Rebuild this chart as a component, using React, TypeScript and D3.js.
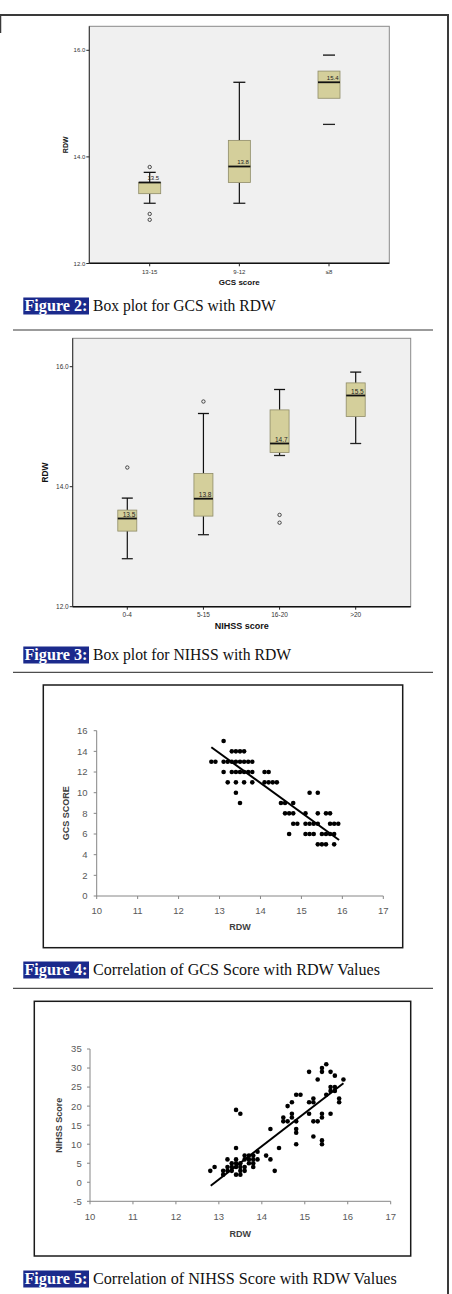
import React from "react";
import * as d3 from "d3";

const W = 452;
const H = 1294;

// ---------- Figure 2: box plot GCS vs RDW ----------
const gcsGroups = ["13-15", "9-12", "≤8"];
const gcsQ1 = [13.31, 13.52, 15.1];
const gcsMedian = [13.52, 13.82, 15.4];
const gcsQ3 = [13.52, 14.31, 15.61];
const gcsLowWhisker = [13.13, 13.13, 14.61];
const gcsHighWhisker = [13.71, 15.4, 15.91];
const gcsOutliers: number[][] = [[13.81, 12.93, 12.82], [], []];
const gcsStem = [true, true, false];

// ---------- Figure 3: box plot NIHSS vs RDW ----------
const nihssGroups = ["0-4", "5-15", "16-20", ">20"];
const nihssQ1 = [13.26, 13.51, 14.57, 15.17];
const nihssMedian = [13.47, 13.8, 14.72, 15.52];
const nihssQ3 = [13.61, 14.22, 15.28, 15.73];
const nihssLowWhisker = [12.8, 13.2, 14.52, 14.72];
const nihssHighWhisker = [13.81, 15.22, 15.62, 15.91];
const nihssOutliers: number[][] = [[14.32], [15.42], [13.53, 13.4], []];
const nihssStem = [true, true, true, true];

const boxYTicks = [12, 14, 16];

// ---------- Figure 4: GCS score vs RDW scatter ----------
const gcsScatter: [number, number][] = [
  [13.1, 15],
  [13.3, 14], [13.4, 14], [13.5, 14], [13.6, 14],
  [12.8, 13], [12.9, 13], [13.1, 13], [13.2, 13], [13.3, 13], [13.4, 13], [13.5, 13], [13.6, 13], [13.7, 13], [13.8, 13],
  [13.1, 12], [13.3, 12], [13.4, 12], [13.5, 12], [13.6, 12], [13.7, 12], [13.8, 12], [14.1, 12], [14.2, 12],
  [13.2, 11], [13.4, 11], [13.6, 11], [13.8, 11], [14.1, 11], [14.2, 11], [14.3, 11], [14.4, 11],
  [13.4, 10], [15.2, 10], [15.4, 10],
  [13.5, 9], [14.5, 9], [14.6, 9], [14.8, 9],
  [14.6, 8], [14.7, 8], [14.8, 8], [15.1, 8], [15.4, 8], [15.6, 8], [15.7, 8],
  [14.8, 7], [14.9, 7], [15.1, 7], [15.2, 7], [15.3, 7], [15.4, 7], [15.7, 7], [15.8, 7], [15.9, 7],
  [14.7, 6], [15.1, 6], [15.2, 6], [15.3, 6], [15.5, 6], [15.6, 6], [15.7, 6], [15.8, 6],
  [15.4, 5], [15.5, 5], [15.6, 5], [15.8, 5],
];
const gcsTrend: [number, number][] = [[12.8, 14.4], [15.92, 5.42]];
const gcsYTicks = [0, 2, 4, 6, 8, 10, 12, 14, 16];

// ---------- Figure 5: NIHSS score vs RDW scatter ----------
const nihssScatter: [number, number][] = [
  [12.8, 3], [12.9, 4], [13.1, 3], [13.1, 2], [13.2, 6], [13.2, 4], [13.2, 3],
  [13.3, 5], [13.3, 4], [13.3, 3], [13.4, 9], [13.4, 6], [13.4, 5], [13.4, 4], [13.4, 2],
  [13.5, 5], [13.5, 4], [13.5, 3], [13.5, 2], [13.6, 7], [13.6, 6], [13.6, 4], [13.6, 3],
  [13.7, 7], [13.7, 6], [13.7, 5], [13.8, 7], [13.8, 6], [13.8, 5], [13.8, 4],
  [13.9, 8], [13.9, 6], [14.1, 7], [14.2, 6], [14.3, 3], [14.4, 9],
  [13.4, 19], [13.5, 18], [14.2, 14],
  [14.5, 17], [14.5, 16], [14.6, 16], [14.7, 17], [14.7, 18], [14.6, 20], [14.7, 21],
  [14.8, 23], [14.9, 23], [14.8, 16], [14.8, 14], [14.8, 13], [14.8, 10],
  [15.1, 29], [15.1, 21], [15.1, 18], [15.2, 22], [15.2, 21], [15.2, 16], [15.3, 16], [15.2, 12],
  [15.3, 27], [15.4, 30], [15.4, 29], [15.4, 18], [15.4, 17], [15.4, 11], [15.4, 10],
  [15.5, 31], [15.5, 23], [15.6, 29], [15.6, 25], [15.7, 25], [15.6, 24], [15.7, 24],
  [15.6, 18], [15.7, 28], [15.8, 22], [15.8, 21], [15.9, 27],
];
const nihssTrend: [number, number][] = [[12.81, -0.9], [15.9, 26.0]];
const nihssYTicks = [-5, 0, 5, 10, 15, 20, 25, 30, 35];

const rdwTicks = [10, 11, 12, 13, 14, 15, 16, 17];

const SANS = "'Liberation Sans', Arial, sans-serif";
const SERIF = "'Liberation Serif', 'DejaVu Serif', serif";

type BoxProps = {
  rect: { x0: number; x1: number; y0: number; y1: number };
  yPix: [number, number]; // pixel for 12 and 16
  centers: [number, number];
  boxW: number;
  groups: string[];
  q1: number[];
  med: number[];
  q3: number[];
  lo: number[];
  hi: number[];
  out: number[][];
  stem: boolean[];
  title: string;
  tickFont: number;
  titleFont: number;
  rdwFont: number;
  rdwX: number;
  capW: number;
};

function BoxPlot(p: BoxProps) {
  const y = d3.scaleLinear().domain([12, 16]).range(p.yPix);
  const x = d3.scalePoint<string>().domain(p.groups).range(p.centers);
  const { x0, x1, y0, y1 } = p.rect;
  const fmt = d3.format(".1f");
  return (
    <g>
      <rect x={x0} y={y0} width={x1 - x0} height={y1 - y0} fill="#f0f0f0" stroke="#8a8a8a" strokeWidth={1} />
      <line x1={x0} x2={x0} y1={y0} y2={y1} stroke="#333" strokeWidth={1} />
      <line x1={x0} x2={x1} y1={y1} y2={y1} stroke="#111" strokeWidth={1.5} />
      {boxYTicks.map((t) => (
        <g key={t}>
          <line x1={x0 - 3} x2={x0} y1={y(t)} y2={y(t)} stroke="#222" strokeWidth={1} />
          <text x={x0 - 4} y={y(t) + p.tickFont * 0.35} textAnchor="end" fontSize={p.tickFont} fontFamily={SANS} fill="#333">
            {fmt(t)}
          </text>
        </g>
      ))}
      {p.groups.map((g, i) => {
        const cx = x(g)!;
        const bx = cx - p.boxW / 2;
        return (
          <g key={g}>
            <line x1={cx} x2={cx} y1={y1} y2={y1 + 3} stroke="#222" strokeWidth={1} />
            <text x={cx} y={y1 + 6 + p.tickFont * 0.7} textAnchor="middle" fontSize={p.tickFont} fontFamily={SANS} fill="#333">
              {g}
            </text>
            {p.stem[i] && (
              <>
                <line x1={cx} x2={cx} y1={y(p.hi[i])} y2={y(p.q3[i])} stroke="#111" strokeWidth={1.2} />
                <line x1={cx} x2={cx} y1={y(p.q1[i])} y2={y(p.lo[i])} stroke="#111" strokeWidth={1.2} />
              </>
            )}
            <line x1={cx - p.capW / 2} x2={cx + p.capW / 2} y1={y(p.hi[i])} y2={y(p.hi[i])} stroke="#111" strokeWidth={1.3} />
            <line x1={cx - p.capW / 2} x2={cx + p.capW / 2} y1={y(p.lo[i])} y2={y(p.lo[i])} stroke="#222" strokeWidth={1.3} />
            <rect x={bx} y={y(p.q3[i])} width={p.boxW} height={y(p.q1[i]) - y(p.q3[i])} fill="#d4cf9b" stroke="#8f8c68" strokeWidth={0.8} />
            <line x1={bx} x2={bx + p.boxW} y1={y(p.med[i])} y2={y(p.med[i])} stroke="#111" strokeWidth={1.8} />
            <text x={bx + p.boxW - 1.5} y={y(p.med[i]) - 2} textAnchor="end" fontSize={p.tickFont} fontFamily={SANS} fill="#222">
              {fmt(p.med[i])}
            </text>
            {p.out[i].map((o, k) => (
              <circle key={k} cx={cx} cy={y(o)} r={1.7} fill="none" stroke="#222" strokeWidth={0.8} />
            ))}
          </g>
        );
      })}
      <text x={(x0 + x1) / 2} y={y1 + 19 + p.titleFont * 0.35} textAnchor="middle" fontSize={p.titleFont} fontWeight="bold" fontFamily={SANS} fill="#111">
        {p.title}
      </text>
      <text
        transform={`translate(${p.rdwX},${(y0 + y1) / 2}) rotate(-90)`}
        textAnchor="middle"
        fontSize={p.rdwFont}
        fontWeight="bold"
        fontFamily={SANS}
        fill="#111"
      >
        RDW
      </text>
    </g>
  );
}

type ScatterProps = {
  frame: { x0: number; x1: number; y0: number; y1: number };
  xPix: [number, number];
  yPix: [number, number];
  yDomain: [number, number];
  yTicks: number[];
  points: [number, number][];
  trend: [number, number][];
  yTitle: string;
  yTitleX: number;
  yLabelEnd: number;
  xLabelY: number;
  xTitleY: number;
};

function Scatter(p: ScatterProps) {
  const x = d3.scaleLinear().domain([10, 17]).range(p.xPix);
  const y = d3.scaleLinear().domain(p.yDomain).range(p.yPix);
  const line = d3.line<[number, number]>().x((d) => x(d[0])).y((d) => y(d[1]));
  const { x0, x1, y0, y1 } = p.frame;
  const axisY = p.yPix[0];
  const axisX = p.xPix[0];
  return (
    <g>
      <rect x={x0} y={y0} width={x1 - x0} height={y1 - y0} fill="#fff" stroke="#1a1a1a" strokeWidth={1.5} />
      <line x1={axisX} x2={axisX} y1={p.yPix[1]} y2={axisY} stroke="#868686" strokeWidth={1} />
      <line x1={axisX} x2={p.xPix[1]} y1={axisY} y2={axisY} stroke="#868686" strokeWidth={1} />
      {p.yTicks.map((t) => (
        <g key={t}>
          <line x1={axisX - 3} x2={axisX} y1={y(t)} y2={y(t)} stroke="#868686" strokeWidth={1} />
          <text x={p.yLabelEnd} y={y(t) + 3.4} textAnchor="end" fontSize={9.5} fontFamily={SANS} fill="#595959">
            {t}
          </text>
        </g>
      ))}
      {rdwTicks.map((t) => (
        <g key={t}>
          <line x1={x(t)} x2={x(t)} y1={axisY} y2={axisY + 3} stroke="#868686" strokeWidth={1} />
          <text x={x(t)} y={p.xLabelY + 3.4} textAnchor="middle" fontSize={9.5} fontFamily={SANS} fill="#595959">
            {t}
          </text>
        </g>
      ))}
      <text x={(p.xPix[0] + p.xPix[1]) / 2} y={p.xTitleY + 3.2} textAnchor="middle" fontSize={9} fontWeight="bold" fontFamily={SANS} fill="#404040">
        RDW
      </text>
      <text
        transform={`translate(${p.yTitleX},${(p.yPix[0] + p.yPix[1]) / 2}) rotate(-90)`}
        textAnchor="middle"
        fontSize={9}
        fontWeight="bold"
        fontFamily={SANS}
        fill="#404040"
      >
        {p.yTitle}
      </text>
      {p.points.map((d, i) => (
        <circle key={i} cx={x(d[0])} cy={y(d[1])} r={2.3} fill="#000" />
      ))}
      <path d={line(p.trend) || ""} fill="none" stroke="#000" strokeWidth={2} />
    </g>
  );
}

function Caption({ top, label, text, end }: { top: number; label: string; text: string; end: number }) {
  const start = 93;
  return (
    <g>
      <rect x={23.3} y={top} width={65.7} height={17} fill="#1b2a8c" />
      <text x={24.5} y={top + 13.5} fontSize={16} fontWeight="bold" fontFamily={SERIF} fill="#fff" textLength={63} lengthAdjust="spacingAndGlyphs">
        {label}
      </text>
      <text x={start} y={top + 13.5} fontSize={16} fontFamily={SERIF} fill="#111" textLength={end - start} lengthAdjust="spacingAndGlyphs">
        {text}
      </text>
    </g>
  );
}

export default function App() {
  return (
    <svg width={W} height={H} style={{ position: "absolute", left: 0, top: 0, background: "#fff" }}>
      <rect x={0} y={0} width={W} height={H} fill="#fff" />
      {/* page frame */}
      <line x1={0} x2={449} y1={15} y2={15} stroke="#3a3a3a" strokeWidth={2} />
      <line x1={448} x2={448} y1={14} y2={H} stroke="#3a3a3a" strokeWidth={2} />
      <line x1={0.5} x2={0.5} y1={14} y2={33} stroke="#3a3a3a" strokeWidth={1.5} />

      <BoxPlot
        rect={{ x0: 89.3, x1: 389.3, y0: 26.3, y1: 263.3 }}
        yPix={[263.5, 50.3]}
        centers={[149.7, 329]}
        boxW={22}
        groups={gcsGroups}
        q1={gcsQ1}
        med={gcsMedian}
        q3={gcsQ3}
        lo={gcsLowWhisker}
        hi={gcsHighWhisker}
        out={gcsOutliers}
        stem={gcsStem}
        title="GCS score"
        tickFont={6}
        titleFont={8}
        rdwFont={7}
        rdwX={68.3}
        capW={12}
      />
      <Caption top={297.5} label="Figure 2:" text="Box plot for GCS with RDW" end={275.7} />
      <line x1={13} x2={433} y1={330} y2={330} stroke="#7a7a7a" strokeWidth={1.5} />

      <BoxPlot
        rect={{ x0: 72.7, x1: 410.7, y0: 338.3, y1: 606.7 }}
        yPix={[606.7, 366.7]}
        centers={[127.3, 355.7]}
        boxW={19}
        groups={nihssGroups}
        q1={nihssQ1}
        med={nihssMedian}
        q3={nihssQ3}
        lo={nihssLowWhisker}
        hi={nihssHighWhisker}
        out={nihssOutliers}
        stem={nihssStem}
        title="NIHSS score"
        tickFont={6.5}
        titleFont={9}
        rdwFont={8.4}
        rdwX={48}
        capW={11}
      />
      <Caption top={646.5} label="Figure 3:" text="Box plot for NIHSS with RDW" end={291} />
      <line x1={13} x2={433} y1={672.3} y2={672.3} stroke="#222" strokeWidth={1} />

      <Scatter
        frame={{ x0: 43.3, x1: 402.7, y0: 685, y1: 947.7 }}
        xPix={[96.7, 383.3]}
        yPix={[896, 730.7]}
        yDomain={[0, 16]}
        yTicks={gcsYTicks}
        points={gcsScatter}
        trend={gcsTrend}
        yTitle="GCS SCORE"
        yTitleX={69}
        yLabelEnd={87.5}
        xLabelY={910.7}
        xTitleY={927}
      />
      <Caption top={961.5} label="Figure 4:" text="Correlation of GCS Score with RDW Values" end={380} />
      <line x1={13} x2={433} y1={988.3} y2={988.3} stroke="#222" strokeWidth={1} />

      <Scatter
        frame={{ x0: 34.3, x1: 410.7, y0: 1001.3, y1: 1256 }}
        xPix={[90, 390.7]}
        yPix={[1201.3, 1049]}
        yDomain={[-5, 35]}
        yTicks={nihssYTicks}
        points={nihssScatter}
        trend={nihssTrend}
        yTitle="NIHSS Score"
        yTitleX={61.5}
        yLabelEnd={81.7}
        xLabelY={1216.7}
        xTitleY={1234}
      />
      <Caption top={1270.5} label="Figure 5:" text="Correlation of NIHSS Score with RDW Values" end={396.7} />
    </svg>
  );
}
